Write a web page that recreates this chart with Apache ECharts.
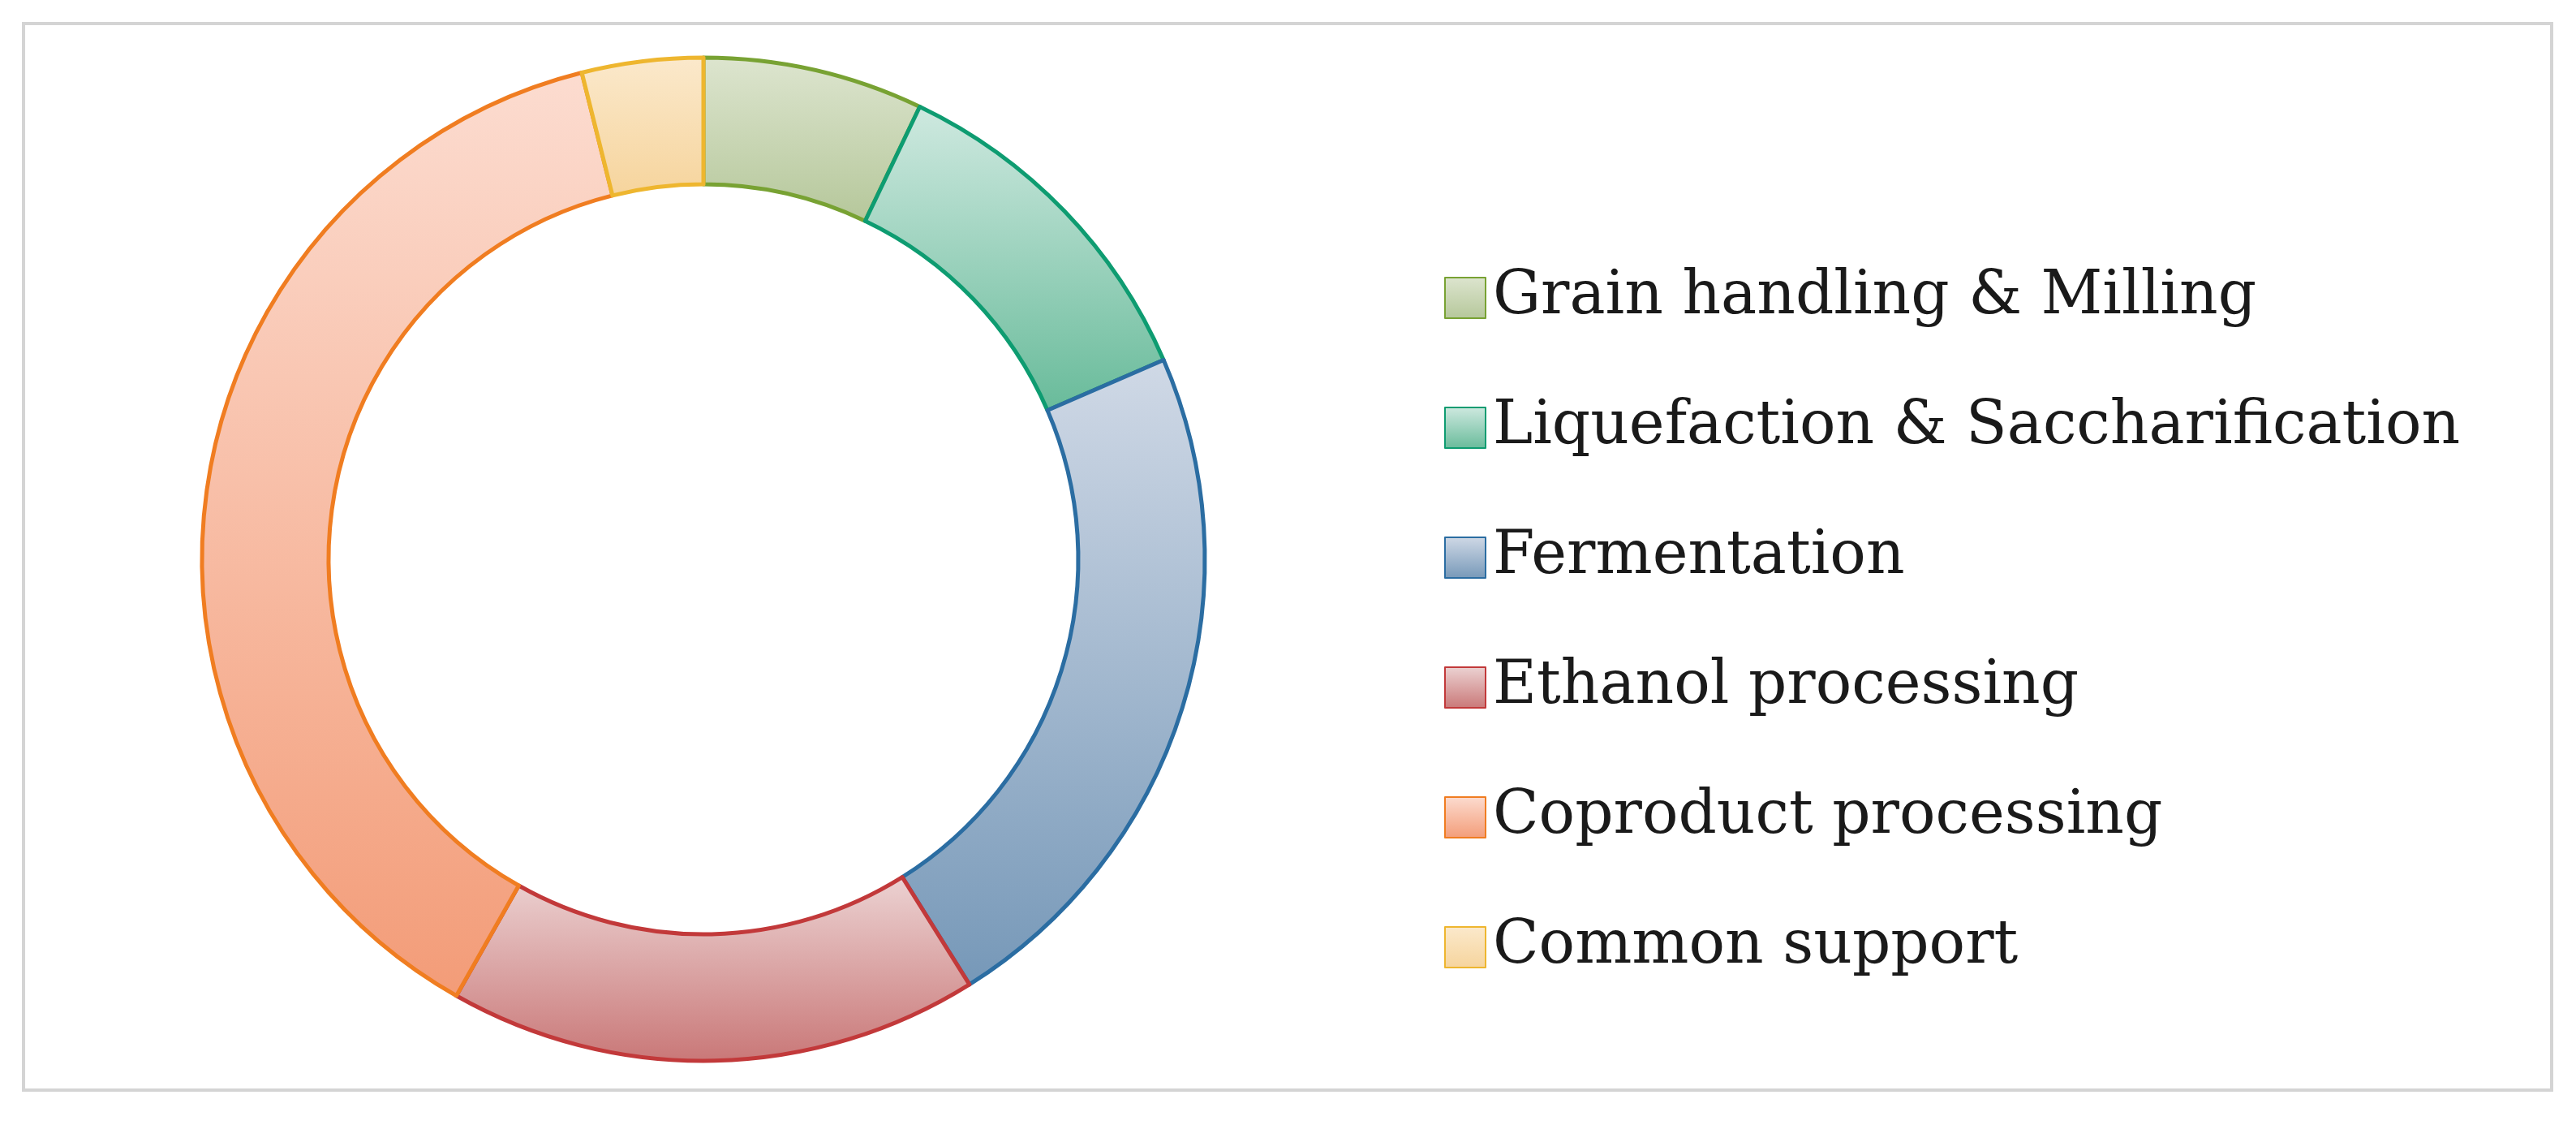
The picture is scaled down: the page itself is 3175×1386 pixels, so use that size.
<!DOCTYPE html>
<html>
<head>
<meta charset="utf-8">
<script src="https://cdn.jsdelivr.net/npm/echarts@6/dist/echarts.min.js"></script>
<style>html,body{margin:0;padding:0;background:#fff}#container{width:3175px;height:1386px}</style>
</head>
<body>
<div id="container"></div>
<script>
var myChart = echarts.init(document.getElementById('container'));

// 各环节占比（%）
var categories = ['Grain handling & Milling', 'Liquefaction & Saccharification', 'Fermentation',
    'Ethanol processing', 'Coproduct processing', 'Common support'];
var values = [7.1, 11.4, 22.6, 17.1, 37.9, 3.9];
// 颜色：渐变上端、下端、边框
var topColors = ['#dde5cf', '#cfe9e0', '#d0d9e6', '#ecd3d3', '#fcdcd0', '#fbe9cc'];
var bottomColors = ['#b5c79a', '#68bb9a', '#7698b8', '#c97777', '#f39c78', '#f6d49c'];
var borderColors = ['#78a233', '#0e9c71', '#2b6da2', '#c2393a', '#f07d21', '#eeb62f'];

var dataMap = [];
for (var i = 0; i < categories.length; i++) {
    dataMap.push({
        name: categories[i],
        value: values[i],
        itemStyle: {
            color: new echarts.graphic.LinearGradient(0, 0, 0, 1, [
                {offset: 0, color: topColors[i]},
                {offset: 1, color: bottomColors[i]}
            ]),
            borderColor: borderColors[i],
            borderWidth: 5
        }
    });
}

var option = {
    animation: false,
    graphic: [{
        type: 'rect',
        shape: {x: 29, y: 29, width: 3116, height: 1314},
        style: {fill: 'none', stroke: '#d4d4d4', lineWidth: 4}
    }],
    legend: {
        orient: 'vertical',
        left: 1775,
        top: 325,
        itemWidth: 50,
        itemHeight: 50,
        itemGap: 86,
        icon: 'rect',
        textStyle: {fontFamily: 'DejaVu Serif', fontSize: 74, color: '#1a1a1a', padding: [0, 0, 0, 4]},
        data: categories
    },
    series: [{
        type: 'pie',
        center: [867, 689],
        radius: [462, 618],
        startAngle: 90,
        clockwise: true,
        label: {show: false},
        labelLine: {show: false},
        data: dataMap
    }]
};
myChart.setOption(option, true);
window.onresize = function () { myChart.resize(); };
</script>
</body>
</html>
